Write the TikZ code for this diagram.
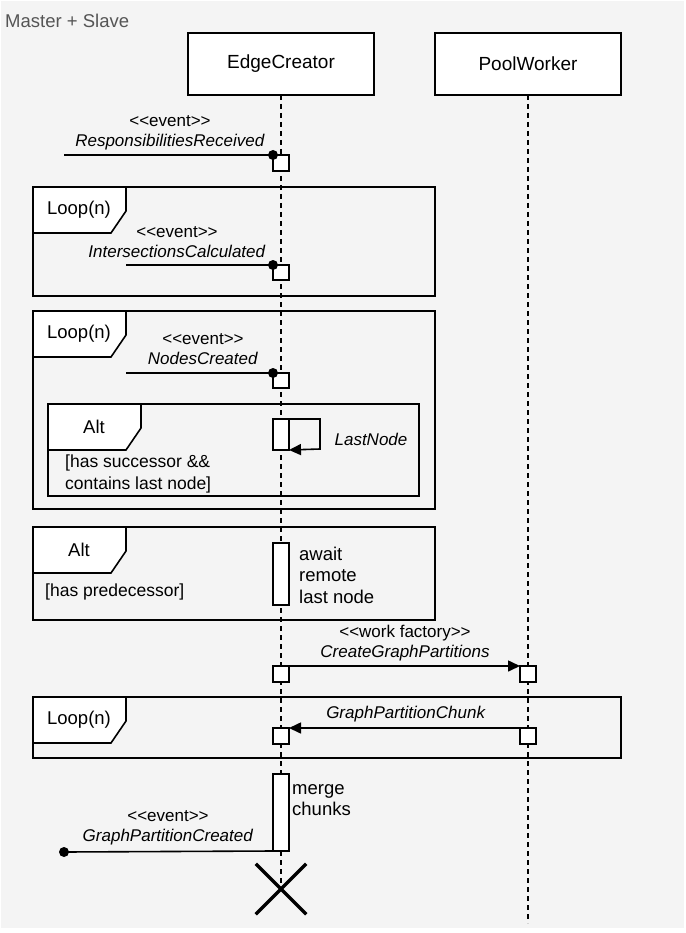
\documentclass[tikz,border=0pt]{standalone}
\usepackage{fontspec}
\setmainfont{Liberation Sans}[Ligatures=TeXOff]
\usetikzlibrary{arrows.meta,shapes.misc}
\definecolor{bggray}{HTML}{F4F4F4}
\definecolor{titlegray}{HTML}{555555}

\begin{document}
\begin{tikzpicture}[x=1pt,y=-1pt,
    participant/.style={draw, fill=white, line width=1.6pt, outer sep=0, minimum width=186pt, minimum height=62pt, font=\fontsize{19}{22}\selectfont},
    lifeline/.style={line width=1.5pt, dash pattern=on 5pt off 4pt},
    act/.style={draw, fill=white, line width=1.6pt, outer sep=0, inner sep=0, minimum width=16pt, anchor=north},
    msg/.style={line width=1.6pt},
    call/.style={msg, -{Triangle[length=12pt,width=11pt]}},
    frame/.style={draw, line width=1.6pt, outer sep=0, inner sep=0, anchor=north west},
    tab/.style={draw, fill=white, line width=1.6pt},
    tablbl/.style={inner sep=0, font=\fontsize{18.5}{22}\selectfont},
    guard/.style={inner sep=0, anchor=west, align=left, font=\fontsize{17.5}{22}\selectfont},
    note/.style={inner sep=0, anchor=west, align=left, font=\fontsize{18.5}{21.5}\selectfont},
    lbl/.style={inner sep=0, align=center, font=\fontsize{17}{20}\selectfont},
    destroy/.style={draw, cross out, line width=3.5pt, minimum size=47pt, inner sep=0}]

    % background
    \useasboundingbox (0,0) rectangle (685,933);
    \fill[bggray] (1,1) rectangle (684,928);
    \node[anchor=west, inner sep=0, text=titlegray, font=\fontsize{18.5}{22}\selectfont] (title) at (5,21) {Master + Slave};

    % combined fragments
    \node[frame, minimum width=402pt, minimum height=109pt] (loop1) at (33,187) {};
    \node[frame, minimum width=402pt, minimum height=198pt] (loop2) at (33,311) {};
    \node[frame, minimum width=371pt, minimum height=92pt] (alt1) at (48,404) {};
    \node[frame, minimum width=402pt, minimum height=93pt] (alt2) at (33,527) {};
    \node[frame, minimum width=588pt, minimum height=61pt] (loop3) at (33,697) {};
    \foreach \f in {loop1,loop2,alt1,alt2,loop3}
        \filldraw[tab] (\f.north west) -- ++(93,0) -- ++(0,24) -- ++(-15,22) -| (\f.north west);
    \node[tablbl] (loop1lbl) at ([shift={(46,23)}]loop1.north west) {Loop(n)};
    \node[tablbl] (loop2lbl) at ([shift={(46,23)}]loop2.north west) {Loop(n)};
    \node[tablbl] (alt1lbl) at ([shift={(46,23)}]alt1.north west) {Alt};
    \node[tablbl] (alt2lbl) at ([shift={(46,23)}]alt2.north west) {Alt};
    \node[tablbl] (loop3lbl) at ([shift={(46,23)}]loop3.north west) {Loop(n)};
    \node[guard] (alt1guard) at (65,474) {[has successor \&\&\\contains last node]};
    \node[guard] (alt2guard) at (45,592) {[has predecessor]};

    % participants and lifelines
    \node[participant] (ec) at (281,64) {EdgeCreator};
    \node[participant] (pw) at (528,64) {PoolWorker};
    \node[destroy] (ecend) at (281,889) {};
    \coordinate (pwend) at (528,923);
    \draw[lifeline] (ec.south) -- (ecend.center);
    \draw[lifeline] (pw.south) -- (pwend);

    % activations
    \node[act, minimum height=16pt] (a1) at (281,155) {};
    \node[act, minimum height=15pt] (a2) at (281,265) {};
    \node[act, minimum height=15pt] (a3) at (281,373) {};
    \node[act, minimum height=31pt] (a4) at (281,419) {};
    \node[act, minimum height=62pt] (a5) at (281,543) {};
    \node[act, minimum height=16pt] (a6) at (281,666) {};
    \node[act, minimum height=16pt] (a7) at (528,666) {};
    \node[act, minimum height=16pt] (a8) at (281,728) {};
    \node[act, minimum height=16pt] (a9) at (528,728) {};
    \node[act, minimum height=77pt] (a10) at (281,774) {};

    % messages
    \coordinate (m1start) at (64,155);
    \coordinate (m2start) at (126,265);
    \coordinate (m3start) at (126,373);
    \coordinate (m6end) at (64,852);
    \draw[msg] (m1start) -- (a1.north west);
    \fill (a1.north west) circle (5pt);
    \draw[msg] (m2start) -- (a2.north west);
    \fill (a2.north west) circle (5pt);
    \draw[msg] (m3start) -- (a3.north west);
    \fill (a3.north west) circle (5pt);
    \draw[call] (a4.north east) -- ++(31,0) -- ++(0,30) -- (a4.south east);
    \draw[call] (a6.north east) -- (a7.north west);
    \draw[call] (a9.north west) -- (a8.north east);
    \draw[msg] (a10.south west) -- (m6end);
    \fill (m6end) circle (5pt);

    % message labels
    \node[lbl] (m1lbl) at (170,133) {<<event>>\\\textit{ResponsibilitiesReceived}};
    \node[lbl] (m2lbl) at (177,242.5) {<<event>>\\\textit{IntersectionsCalculated}};
    \node[lbl] (m3lbl) at (203,349) {<<event>>\\\textit{NodesCreated}};
    \node[lbl] (m4lbl) at (371,439) {\textit{LastNode}};
    \node[lbl] (m5lbl) at (405,643) {<<work factory>>\\\textit{CreateGraphPartitions}};
    \node[lbl] (m7lbl) at (406,714) {\textit{GraphPartitionChunk}};
    \node[lbl] (m6lbl) at (168,828) {<<event>>\\\textit{GraphPartitionCreated}};
    \node[note] (a5note) at (299,575) {await\\remote\\last node};
    \node[note] (a10note) at (292,800) {merge\\chunks};
\end{tikzpicture}
\end{document}
